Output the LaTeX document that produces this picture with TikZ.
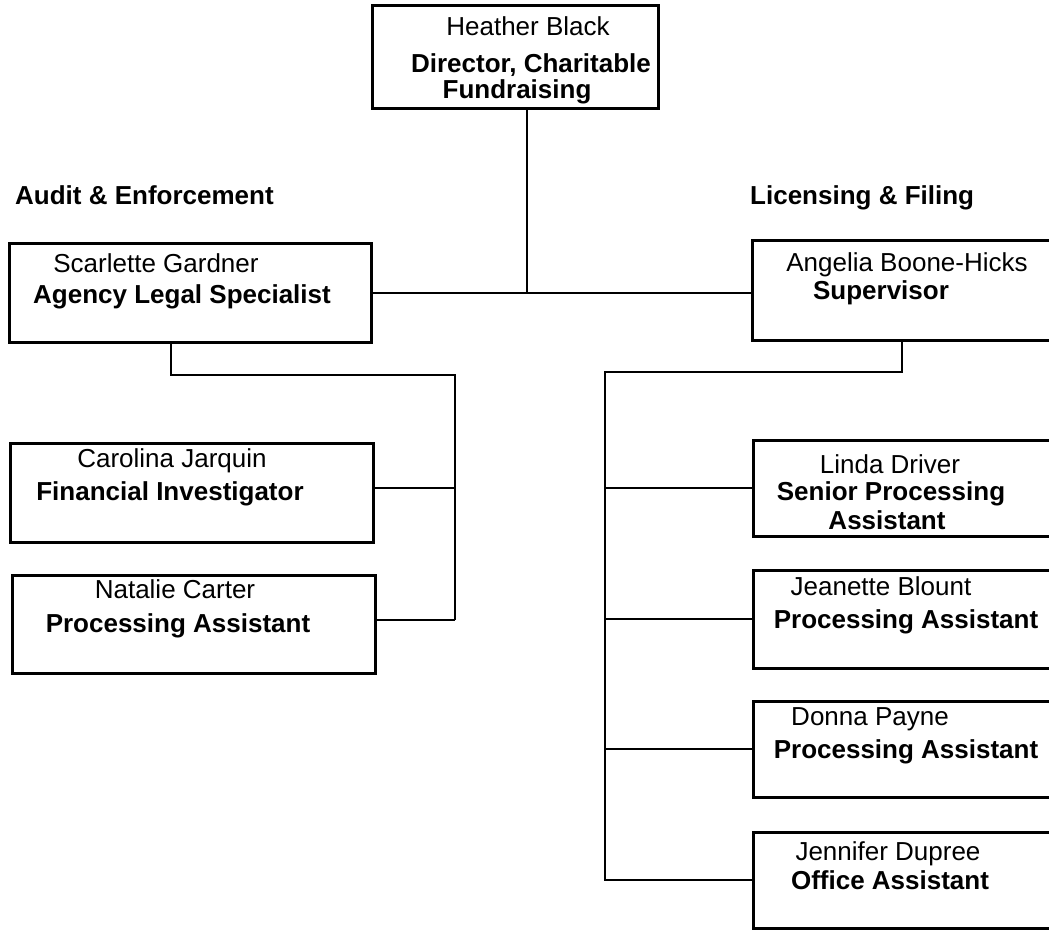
\documentclass[tikz,border=0pt]{standalone}
\usepackage{fontspec}
\setmainfont{Liberation Sans}
\begin{document}
\begin{tikzpicture}[x=1pt,y=-1pt,
  box/.style={draw, line width=3pt, rectangle, inner sep=0pt},
  conn/.style={draw, line width=2.6pt},
  nm/.style={font=\fontsize{26}{30}\selectfont, inner sep=0pt, anchor=base},
  ttl/.style={font=\fontsize{26}{30}\selectfont\bfseries, inner sep=0pt, anchor=base}]
\useasboundingbox (0,0) rectangle (1049,930);
\clip (0,0) rectangle (1049,930);
% boxes
\node[box, minimum width=286pt, minimum height=103pt] (top) at (515,56.5) {};
\node[box, minimum width=362pt, minimum height=99pt] (scar) at (190,292.5) {};
\node[box, minimum width=328pt, minimum height=100pt] (ang) at (916,290) {};
\node[box, minimum width=363pt, minimum height=99pt] (car) at (191.5,492.5) {};
\node[box, minimum width=363pt, minimum height=98pt] (nat) at (193.5,624) {};
\node[box, minimum width=327pt, minimum height=96pt] (lin) at (916.5,488) {};
\node[box, minimum width=327pt, minimum height=98pt] (jea) at (916.5,619) {};
\node[box, minimum width=327pt, minimum height=96pt] (don) at (916.5,749) {};
\node[box, minimum width=327pt, minimum height=96pt] (jen) at (916.5,880) {};
% texts
\node[nm]  (t1a) at (528,35) {Heather Black};
\node[ttl] (t1b) at (531,72) {Director, Charitable};
\node[ttl] (t1c) at (517,98) {Fundraising};
\node[ttl, anchor=base west] (hA) at (15,204) {Audit \& Enforcement};
\node[ttl, anchor=base west] (hL) at (750,204) {Licensing \& Filing};
\node[nm]  (s1) at (156,272) {Scarlette Gardner};
\node[ttl] (s2) at (182,303) {Agency Legal Specialist};
\node[nm]  (a1) at (907,271) {Angelia Boone-Hicks};
\node[ttl] (a2) at (881,299) {Supervisor};
\node[nm]  (c1) at (172,467) {Carolina Jarquin};
\node[ttl] (c2) at (170,500) {Financial Investigator};
\node[nm]  (n1) at (175,598) {Natalie Carter};
\node[ttl] (n2) at (178,632) {Processing Assistant};
\node[nm]  (l1) at (890,473) {Linda Driver};
\node[ttl] (l2) at (891,500) {Senior Processing};
\node[ttl] (l3) at (887,529) {Assistant};
\node[nm]  (j1) at (881,595) {Jeanette Blount};
\node[ttl] (j2) at (906,628) {Processing Assistant};
\node[nm]  (d1) at (870,725) {Donna Payne};
\node[ttl] (d2) at (906,758) {Processing Assistant};
\node[nm]  (e1) at (888,860) {Jennifer Dupree};
\node[ttl] (e2) at (890,889) {Office Assistant};
% connectors
\coordinate (hj) at (527,293);
\draw[conn] (top.south -| hj) -- (hj);
\draw[conn] (scar.east |- hj) -- (ang.west |- hj);
% left branch
\coordinate (ld) at (171,375);
\coordinate (lb) at (455,375);
\coordinate (cj) at (455,488);
\coordinate (nj) at (455,620);
\draw[conn] (scar.south -| ld) -- (ld) -- (lb) -- (nj);
\draw[conn] (cj) -- (cj -| car.east);
\draw[conn] (nj) -- (nj -| nat.east);
% right branch
\coordinate (rd) at (902,372);
\coordinate (rb) at (605,372);
\draw[conn] (ang.south -| rd) -- (rd) -- (rb) -- (rb |- jen.west) -- (jen.west);
\draw[conn] (rb |- lin.west) -- (lin.west);
\draw[conn] (rb |- jea.west) -- (jea.west);
\draw[conn] (rb |- don.west) -- (don.west);
\end{tikzpicture}
\end{document}
